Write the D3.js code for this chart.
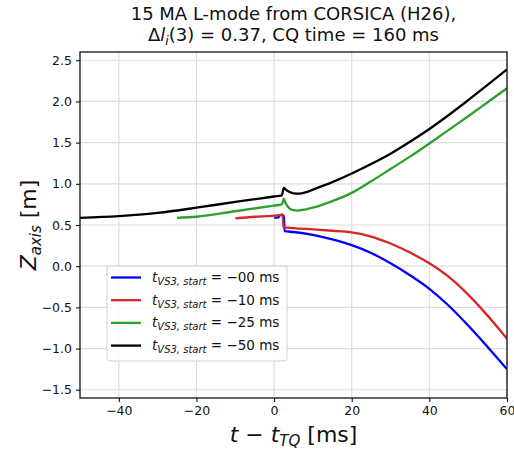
<!DOCTYPE html>
<html><head><meta charset="utf-8">
<script src="https://cdn.jsdelivr.net/npm/d3@7"></script>
<style>body{margin:0;background:#fff}svg{display:block;font-family:"DejaVu Sans",sans-serif}</style>
</head><body><svg id="c" width="514" height="452"></svg>
<script>
const titleLine1 = "15 MA L-mode from CORSICA (H26),";
const titleLine2Rest = "(3) = 0.37, CQ time = 160 ms";
const xTicks = [-40, -20, 0, 20, 40, 60];
const yTicks = [-1.5, -1.0, -0.5, 0.0, 0.5, 1.0, 1.5, 2.0, 2.5];
const seriesNames = ["−00", "−10", "−25", "−50"];
const seriesColors = ["#0000ff", "#d62728", "#2ca02c", "#000000"];

const tBlue = [0, 1, 1.5, 2, 2.5, 2.7, 5, 10, 15, 20, 25, 30, 35, 40, 45, 50, 55, 60];
const zBlue = [0.59, 0.59, 0.62, 0.62, 0.61, 0.425, 0.415, 0.38, 0.325, 0.255, 0.16, 0.035, -0.11, -0.275, -0.48, -0.72, -0.98, -1.25];
const tRed = [-10, -5, 0, 2, 2.2, 2.4, 5, 10, 15, 20, 25, 30, 35, 40, 45, 50, 55, 60];
const zRed = [0.58, 0.60, 0.615, 0.627, 0.63, 0.475, 0.462, 0.447, 0.43, 0.41, 0.36, 0.275, 0.165, 0.035, -0.13, -0.345, -0.6, -0.88];
const tGreen = [-25, -20, -10, 0, 2, 2.5, 3, 4, 5, 6, 8, 10, 15, 20, 25, 30, 35, 40, 45, 50, 55, 60];
const zGreen = [0.586, 0.60, 0.667, 0.736, 0.75, 0.82, 0.76, 0.70, 0.68, 0.675, 0.688, 0.71, 0.79, 0.89, 1.03, 1.18, 1.33, 1.49, 1.655, 1.82, 1.99, 2.16];
const tBlack = [-50, -40, -30, -20, -10, 0, 2, 2.5, 3, 4, 5, 6.5, 8, 10, 15, 20, 25, 30, 35, 40, 45, 50, 55, 60];
const zBlack = [0.586, 0.607, 0.647, 0.71, 0.78, 0.846, 0.86, 0.95, 0.93, 0.90, 0.885, 0.882, 0.895, 0.93, 1.02, 1.125, 1.24, 1.365, 1.51, 1.665, 1.835, 2.015, 2.20, 2.39];

const series = [[tBlue, zBlue], [tRed, zRed], [tGreen, zGreen], [tBlack, zBlack]];

const svg = d3.select("#c");
const L = 80, R = 507, T = 52, B = 398;
const x = d3.scaleLinear().domain([-50, 60]).range([L, R]);
const y = d3.scaleLinear().domain([-1.6, 2.6]).range([B, T]);

// grid
const g = svg.append("g");
g.selectAll(".gx").data(xTicks).join("line")
  .attr("x1", d => x(d)).attr("x2", d => x(d)).attr("y1", T).attr("y2", B)
  .attr("stroke", "#dcdcdc").attr("stroke-width", 1.2);
g.selectAll(".gy").data(yTicks).join("line")
  .attr("y1", d => y(d)).attr("y2", d => y(d)).attr("x1", L).attr("x2", R)
  .attr("stroke", "#dcdcdc").attr("stroke-width", 1.2);

// lines
svg.append("clipPath").attr("id", "cp").append("rect")
  .attr("x", L).attr("y", T).attr("width", R - L).attr("height", B - T);
const line = d3.line().x(d => x(d[0])).y(d => y(d[1])).curve(d3.curveMonotoneX);
series.forEach((s, i) => {
  const pts = s[0].map((t, k) => [t, s[1][k]]);
  svg.append("path").datum(pts).attr("d", line)
    .attr("fill", "none").attr("stroke", seriesColors[i]).attr("stroke-width", 2.3)
    .attr("stroke-linejoin", "round").attr("clip-path", "url(#cp)");
});

// axes
const xa = svg.append("g").attr("transform", `translate(0,${B})`)
  .call(d3.axisBottom(x).tickValues(xTicks).tickSize(4).tickPadding(4).tickFormat(d => d3.format("d")(d).replace("-", "−")));
const ya = svg.append("g").attr("transform", `translate(${L},0)`)
  .call(d3.axisLeft(y).tickValues(yTicks).tickSize(4).tickPadding(4).tickFormat(d => d3.format(".1f")(d).replace("-", "−")));
[xa, ya].forEach(a => {
  a.select(".domain").remove();
  a.selectAll("text").attr("font-size", 12.5).attr("fill", "#111").attr("font-family", "DejaVu Sans");
  a.selectAll("line").attr("stroke", "#111").attr("stroke-width", 1.1);
});
svg.append("rect").attr("x", L).attr("y", T).attr("width", R - L).attr("height", B - T)
  .attr("fill", "none").attr("stroke", "#111").attr("stroke-width", 1.3);

// title
svg.append("text").attr("x", (L + R) / 2).attr("y", 20).attr("text-anchor", "middle")
  .attr("font-size", 18).attr("fill", "#111").text(titleLine1);
const t2 = svg.append("text").attr("x", (L + R) / 2).attr("y", 41).attr("text-anchor", "middle")
  .attr("font-size", 18).attr("fill", "#111");
t2.append("tspan").text("Δ");
t2.append("tspan").attr("font-style", "italic").text("l");
t2.append("tspan").attr("font-style", "italic").attr("font-size", 12.5).attr("dy", 4).text("i");
t2.append("tspan").attr("dy", -4).text(titleLine2Rest);

// axis labels
const xl = svg.append("text").attr("x", (L + R) / 2).attr("y", 442).attr("text-anchor", "middle")
  .attr("font-size", 22).attr("fill", "#111");
xl.append("tspan").attr("font-style", "italic").text("t");
xl.append("tspan").text(" − ");
xl.append("tspan").attr("font-style", "italic").text("t");
xl.append("tspan").attr("font-style", "italic").attr("font-size", 15).attr("dy", 4).text("TQ");
xl.append("tspan").attr("dy", -4).text(" [ms]");

const yl = svg.append("text").attr("transform", `translate(36,${(T + B) / 2}) rotate(-90)`).attr("text-anchor", "middle")
  .attr("font-size", 22).attr("fill", "#111");
yl.append("tspan").attr("font-style", "italic").text("Z");
yl.append("tspan").attr("font-style", "italic").attr("font-size", 15).attr("dy", 5).text("axis");
yl.append("tspan").attr("dy", -5).text(" [m]");

// legend
const lg = svg.append("g");
lg.append("rect").attr("x", 107).attr("y", 266).attr("width", 180).attr("height", 95).attr("rx", 3)
  .attr("fill", "#fff").attr("fill-opacity", 0.85).attr("stroke", "#d0d0d0").attr("stroke-width", 1);
seriesNames.forEach((n, i) => {
  const yy = 277.5 + i * 22.7;
  lg.append("line").attr("x1", 111).attr("x2", 141).attr("y1", yy).attr("y2", yy)
    .attr("stroke", seriesColors[i]).attr("stroke-width", 2.3);
  const tx = lg.append("text").attr("x", 152).attr("y", yy + 4.5).attr("font-size", 13.5).attr("fill", "#111");
  tx.append("tspan").attr("font-style", "italic").text("t");
  tx.append("tspan").attr("font-style", "italic").attr("font-size", 10).attr("dy", 3).text("VS3, start");
  tx.append("tspan").attr("dy", -3).text(" = " + n + " ms");
});
</script></body></html>
